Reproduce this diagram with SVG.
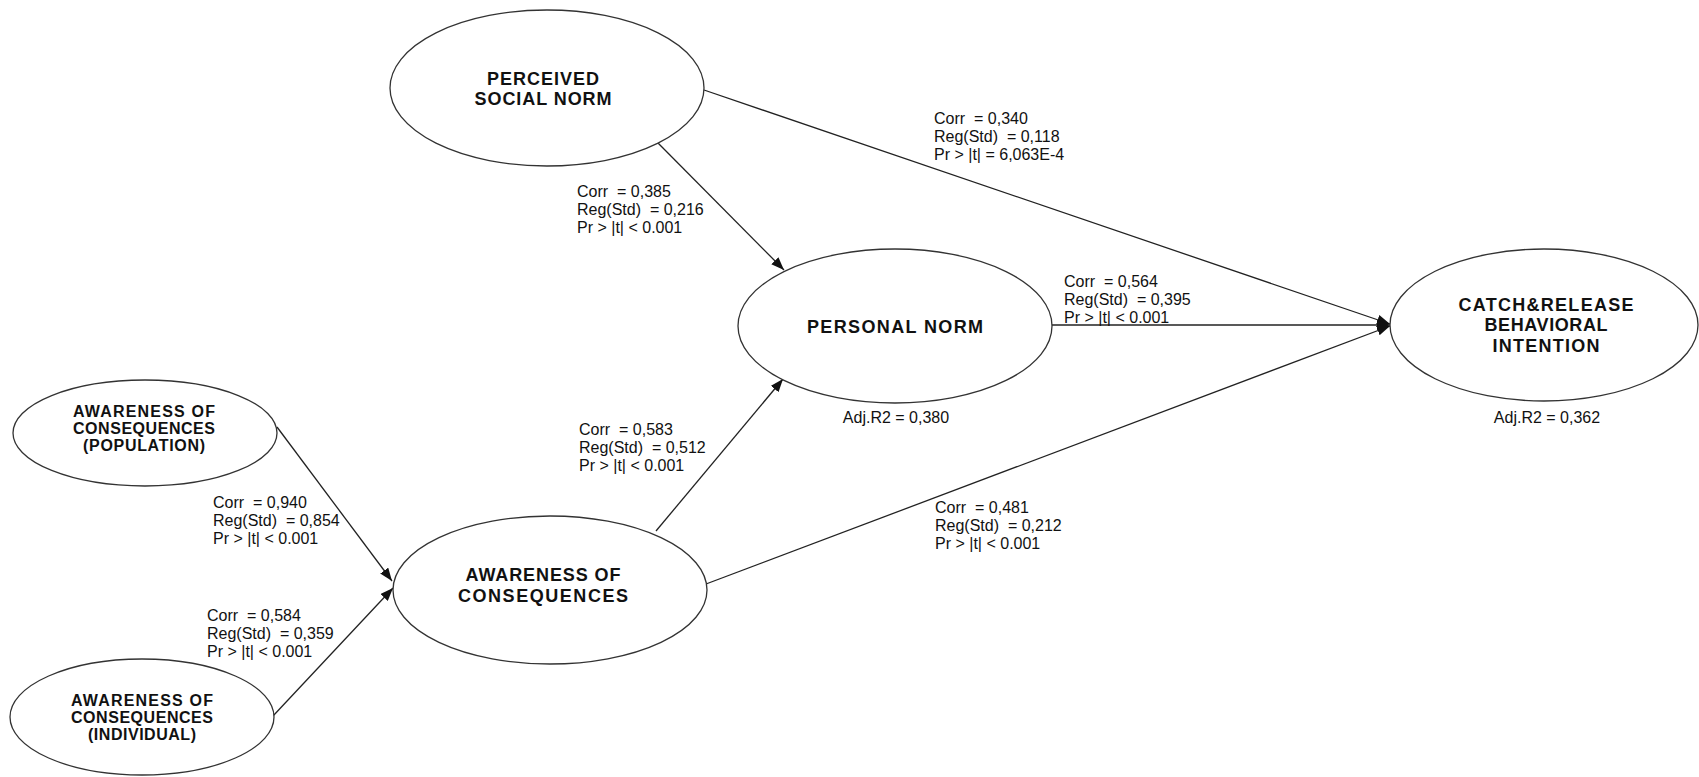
<svg xmlns="http://www.w3.org/2000/svg" width="1699" height="777" viewBox="0 0 1699 777">
<defs>
<marker id="arr" markerUnits="userSpaceOnUse" markerWidth="14" markerHeight="10" refX="13" refY="5" orient="auto">
<path d="M0,0 L13,5 L0,10 z" fill="#111"/>
</marker>
<style>
.node ellipse{fill:#fff;stroke:#333;stroke-width:1.3}
.nt{font-family:"Liberation Sans",Arial,sans-serif;font-weight:bold;font-size:18px;fill:#111;text-anchor:middle;white-space:pre}
.ns{font-family:"Liberation Sans",Arial,sans-serif;font-weight:bold;font-size:16px;fill:#111;text-anchor:middle;white-space:pre}
.lbl{font-family:"Liberation Sans",Arial,sans-serif;font-size:16px;fill:#111;white-space:pre}
.adj{font-family:"Liberation Sans",Arial,sans-serif;font-size:16px;fill:#111;text-anchor:middle;white-space:pre}
#connectors line{stroke:#222;stroke-width:1.3;marker-end:url(#arr)}
</style>
</defs>
<rect width="1699" height="777" fill="#fff"/>
<g id="connectors">
<line x1="704" y1="90" x2="1390" y2="324"/>
<line x1="658" y1="143" x2="784" y2="270"/>
<line x1="1052" y1="325" x2="1390" y2="325"/>
<line x1="706" y1="584" x2="1390" y2="326"/>
<line x1="656" y1="531" x2="783" y2="379"/>
<line x1="277" y1="427" x2="392" y2="581"/>
<line x1="273" y1="716" x2="393" y2="588"/>
</g>
<g id="labels">
<text class="lbl" x="934" y="124">Corr  = 0,340</text>
<text class="lbl" x="934" y="142">Reg(Std)  = 0,118</text>
<text class="lbl" x="934" y="160">Pr &gt; |t| = 6,063E-4</text>
<text class="lbl" x="577" y="197">Corr  = 0,385</text>
<text class="lbl" x="577" y="215">Reg(Std)  = 0,216</text>
<text class="lbl" x="577" y="233">Pr &gt; |t| &lt; 0.001</text>
<text class="lbl" x="579" y="435">Corr  = 0,583</text>
<text class="lbl" x="579" y="453">Reg(Std)  = 0,512</text>
<text class="lbl" x="579" y="471">Pr &gt; |t| &lt; 0.001</text>
<text class="lbl" x="1064" y="287">Corr  = 0,564</text>
<text class="lbl" x="1064" y="305">Reg(Std)  = 0,395</text>
<text class="lbl" x="1064" y="323">Pr &gt; |t| &lt; 0.001</text>
<text class="lbl" x="935" y="513">Corr  = 0,481</text>
<text class="lbl" x="935" y="531">Reg(Std)  = 0,212</text>
<text class="lbl" x="935" y="549">Pr &gt; |t| &lt; 0.001</text>
<text class="lbl" x="213" y="508">Corr  = 0,940</text>
<text class="lbl" x="213" y="526">Reg(Std)  = 0,854</text>
<text class="lbl" x="213" y="544">Pr &gt; |t| &lt; 0.001</text>
<text class="lbl" x="207" y="621">Corr  = 0,584</text>
<text class="lbl" x="207" y="639">Reg(Std)  = 0,359</text>
<text class="lbl" x="207" y="657">Pr &gt; |t| &lt; 0.001</text>
</g>
<g id="psn" class="node">
<ellipse cx="547" cy="88" rx="157" ry="78"/>
<text class="nt" x="543" y="85" textLength="112" lengthAdjust="spacing">PERCEIVED</text>
<text class="nt" x="543" y="105" textLength="137" lengthAdjust="spacing">SOCIAL NORM</text>
</g>
<g id="pn" class="node">
<ellipse cx="895" cy="326" rx="157" ry="77"/>
<text class="nt" x="895" y="333" textLength="176" lengthAdjust="spacing">PERSONAL NORM</text>
<text class="adj" x="896" y="423">Adj.R2 = 0,380</text>
</g>
<g id="crbi" class="node">
<ellipse cx="1544" cy="325" rx="154" ry="76"/>
<text class="nt" x="1546" y="311" textLength="175" lengthAdjust="spacing">CATCH&amp;RELEASE</text>
<text class="nt" x="1546" y="331" textLength="123" lengthAdjust="spacing">BEHAVIORAL</text>
<text class="nt" x="1546" y="352" textLength="107" lengthAdjust="spacing">INTENTION</text>
<text class="adj" x="1547" y="423">Adj.R2 = 0,362</text>
</g>
<g id="aoc" class="node">
<ellipse cx="550" cy="590" rx="157" ry="74"/>
<text class="nt" x="543" y="581" textLength="155" lengthAdjust="spacing">AWARENESS OF</text>
<text class="nt" x="543" y="602" textLength="170" lengthAdjust="spacing">CONSEQUENCES</text>
</g>
<g id="aocpop" class="node">
<ellipse cx="145" cy="433" rx="132" ry="53"/>
<text class="ns" x="144" y="417" textLength="142" lengthAdjust="spacing">AWARENESS OF</text>
<text class="ns" x="144" y="434" textLength="142" lengthAdjust="spacing">CONSEQUENCES</text>
<text class="ns" x="144" y="451" textLength="122" lengthAdjust="spacing">(POPULATION)</text>
</g>
<g id="aocind" class="node">
<ellipse cx="142" cy="717" rx="132" ry="58"/>
<text class="ns" x="142" y="706" textLength="142" lengthAdjust="spacing">AWARENESS OF</text>
<text class="ns" x="142" y="723" textLength="142" lengthAdjust="spacing">CONSEQUENCES</text>
<text class="ns" x="142" y="740" textLength="108" lengthAdjust="spacing">(INDIVIDUAL)</text>
</g>
</svg>
